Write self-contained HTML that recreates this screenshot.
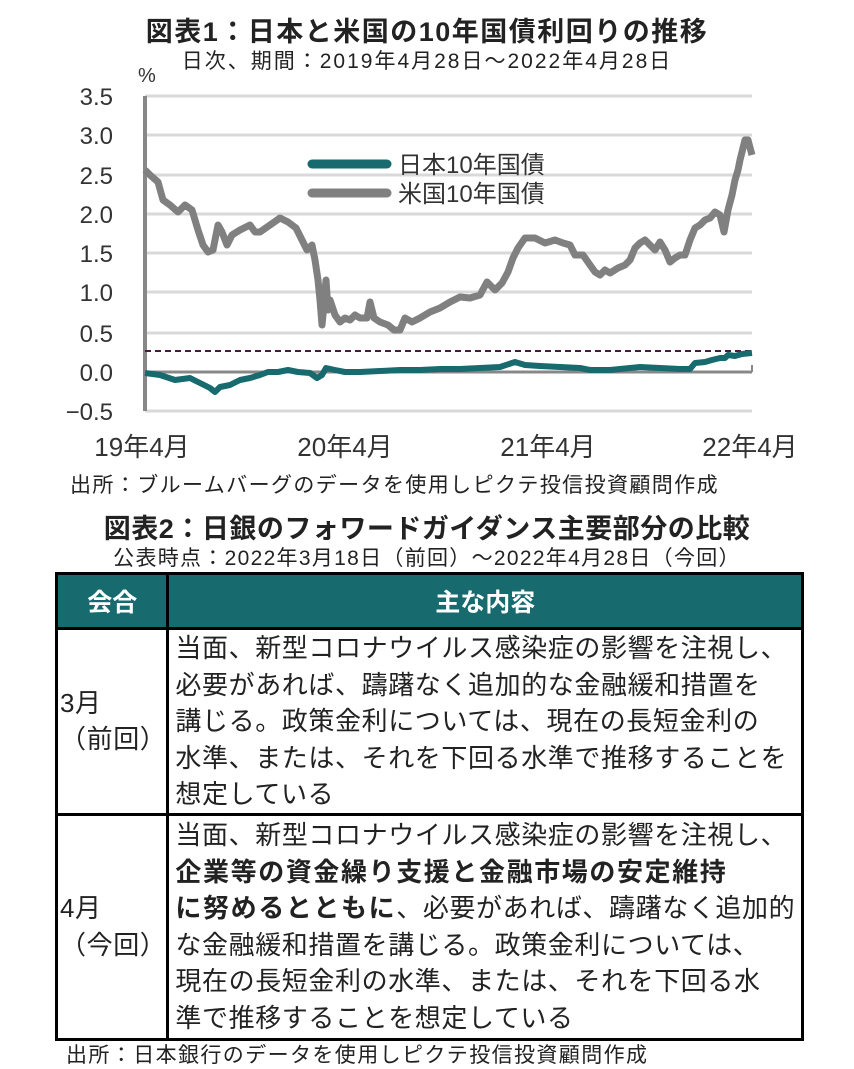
<!DOCTYPE html>
<html><head><meta charset="utf-8">
<style>
body{margin:0;width:854px;height:1067px;background:#fff;position:relative;overflow:hidden;font-family:"Liberation Sans","Noto Sans CJK JP",sans-serif;color:#222}
.t{position:absolute;white-space:nowrap}
table{position:absolute;left:55px;top:572px;width:749px;border-collapse:collapse;border:3px solid #000}
td{border:3px solid #000;padding:0 0 0 6px;font-size:26px;letter-spacing:0.6px;line-height:36.5px;vertical-align:middle;white-space:nowrap;color:#222}
td b{letter-spacing:1.6px}
th{background:#176a6d;color:#fff;font-size:25px;height:50px;border:3px solid #000;font-weight:bold}
</style></head><body>
<div class="t" style="left:0;width:854px;text-align:center;top:10px;font-size:27px;letter-spacing:1.5px;font-weight:bold">図表1：日本と米国の10年国債利回りの推移</div>
<div class="t" style="left:0;width:854px;text-align:center;top:45px;font-size:21px;letter-spacing:2px">日次、期間：2019年4月28日～2022年4月28日</div>
<svg style="position:absolute;left:0;top:0" width="854" height="470">
<g stroke="#d9d9d9" stroke-width="3">
<line x1="145" x2="752" y1="96" y2="96"/><line x1="145" x2="752" y1="135" y2="135"/><line x1="145" x2="752" y1="175" y2="175"/><line x1="145" x2="752" y1="214" y2="214"/><line x1="145" x2="752" y1="253" y2="253"/><line x1="145" x2="752" y1="292" y2="292"/><line x1="145" x2="752" y1="333" y2="333"/><line x1="145" x2="752" y1="411" y2="411"/>
</g>
<line x1="145" x2="752" y1="372" y2="372" stroke="#888" stroke-width="3"/>
<line x1="752" x2="752" y1="365" y2="372" stroke="#888" stroke-width="2"/>
<line x1="145" x2="145" y1="96" y2="411" stroke="#888" stroke-width="4"/>
<line x1="145" x2="752" y1="351" y2="351" stroke="#4a1a3a" stroke-width="2" stroke-dasharray="6,4"/>
<g font-size="24" fill="#333" text-anchor="end">
<text x="113" y="105">3.5</text><text x="113" y="144">3.0</text><text x="113" y="184">2.5</text><text x="113" y="223">2.0</text><text x="113" y="262">1.5</text><text x="113" y="301">1.0</text><text x="113" y="342">0.5</text><text x="113" y="381">0.0</text><text x="113" y="420">−0.5</text>
</g>
<text x="138" y="82" font-size="20" fill="#333">%</text>
<g font-size="26" fill="#333" text-anchor="middle">
<text x="142" y="456">19年4月</text><text x="345" y="456">20年4月</text><text x="548" y="456">21年4月</text><text x="750" y="456">22年4月</text>
</g>
<polyline fill="none" stroke="#808080" stroke-width="7" stroke-linejoin="round" points="145,170 150,175 158,182 163,200 170,205 178,212 185,205 192,210 198,230 203,245 208,252 213,250 218,225 222,232 227,245 232,235 240,230 250,225 255,232 260,232 270,225 280,218 288,222 296,228 302,240 307,250 312,245 315,260 318,280 320,300 322,325 324,305 326,280 328,310 330,300 335,315 340,322 345,318 350,320 355,315 360,318 367,318 370,302 374,318 380,322 388,325 394,330 400,330 405,318 412,322 420,318 430,312 440,308 450,302 460,297 470,298 480,295 487,282 495,290 502,283 508,272 513,258 518,248 525,238 535,238 545,243 555,240 563,243 570,245 575,255 583,255 590,265 595,272 600,275 605,270 610,273 618,268 625,265 630,260 635,248 640,243 645,240 650,245 655,250 660,242 665,250 670,262 675,258 680,255 685,255 690,240 695,228 700,225 705,220 710,218 715,212 720,215 724,232 728,210 732,195 735,180 738,170 740,160 745,140 748,140 752,155"/>
<polyline fill="none" stroke="#176a6d" stroke-width="6" stroke-linejoin="round" points="145,373 160,375 175,380 190,378 200,383 210,388 215,392 220,387 230,385 240,380 250,378 260,375 268,372 278,372 288,370 298,372 310,373 317,378 322,375 326,368 335,370 345,372 360,372 380,371 400,370 420,370 440,369 460,369 480,368 500,367 515,362 525,365 540,366 560,367 580,368 590,370 610,370 620,369 640,367 660,368 680,369 690,369 695,363 705,362 712,360 720,358 725,358 728,355 735,356 742,354 752,353"/>
<line x1="312" x2="387" y1="164" y2="164" stroke="#176a6d" stroke-width="9" stroke-linecap="round"/>
<line x1="312" x2="387" y1="193" y2="193" stroke="#808080" stroke-width="9" stroke-linecap="round"/>
<g font-size="24" fill="#333"><text x="398" y="173">日本10年国債</text><text x="398" y="202">米国10年国債</text></g>
</svg>
<div class="t" style="left:70px;top:469px;font-size:21px;letter-spacing:1.4px">出所：ブルームバーグのデータを使用しピクテ投信投資顧問作成</div>
<div class="t" style="left:0;width:854px;text-align:center;top:507px;font-size:27px;letter-spacing:0.5px;font-weight:bold">図表2：日銀のフォワードガイダンス主要部分の比較</div>
<div class="t" style="left:0;width:854px;text-align:center;top:542px;font-size:21px;letter-spacing:1.3px">公表時点：2022年3月18日（前回）～2022年4月28日（今回）</div>
<table>
<tr><th style="width:104px">会合</th><th>主な内容</th></tr>
<tr><td style="height:176px;padding-left:2px">3月<br>（前回）</td><td>当面、新型コロナウイルス感染症の影響を注視し、<br>必要があれば、躊躇なく追加的な金融緩和措置を<br>講じる。政策金利については、現在の長短金利の<br>水準、または、それを下回る水準で推移することを<br>想定している</td></tr>
<tr><td style="height:222px;padding-left:2px">4月<br>（今回）</td><td>当面、新型コロナウイルス感染症の影響を注視し、<br><b>企業等の資金繰り支援と金融市場の安定維持</b><br><b>に努めるとともに</b>、必要があれば、躊躇なく追加的<br>な金融緩和措置を講じる。政策金利については、<br>現在の長短金利の水準、または、それを下回る水<br>準で推移することを想定している</td></tr>
</table>
<div class="t" style="left:66px;top:1039px;font-size:21px;letter-spacing:1.4px">出所：日本銀行のデータを使用しピクテ投信投資顧問作成</div>
</body></html>
